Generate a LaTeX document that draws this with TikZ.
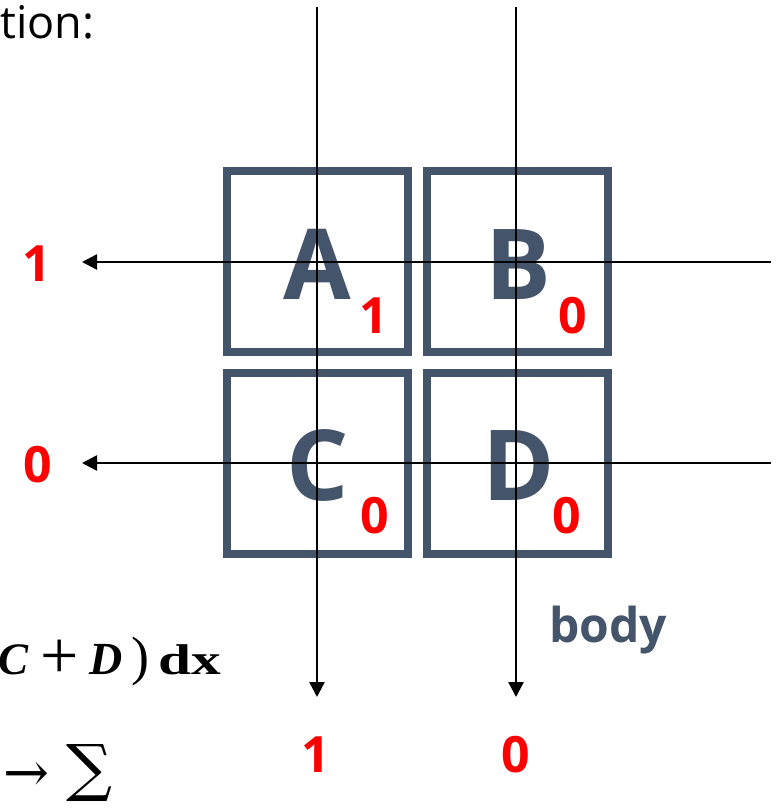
\documentclass[tikz,border=0pt]{standalone}
\usepackage{fontspec}
\setmainfont{Open Sans}
\newfontfamily\fserif{Liberation Serif}
\newfontfamily\fdeja{DejaVu Serif}
\usetikzlibrary{arrows.meta}
\definecolor{slate}{HTML}{44546A}
\definecolor{pured}{HTML}{FF0000}
\tikzset{
  cell/.style={draw=slate, line width=8pt, fill=white, minimum width=181pt, minimum height=181pt, inner sep=0pt},
  bigletter/.style={anchor=base, inner sep=0pt, text=slate, font=\fontsize{98}{110}\selectfont\bfseries},
  subval/.style={anchor=base, inner sep=0pt, text=pured, font=\fontsize{50}{60}\selectfont\bfseries},
  outval/.style={anchor=base, inner sep=0pt, text=pured, font=\fontsize{50}{60}\selectfont\bfseries},
  ray/.style={draw=black, line width=2.4pt, -{Triangle[length=15pt,width=15pt]}}
}
\begin{document}
\begin{tikzpicture}[x=1pt,y=-1pt]
\useasboundingbox (0,0) rectangle (780,808);
% boxes
\node[cell] (boxA) at (317.5,261.5) {};
\node[cell] (boxB) at (517,261.5) {};
\node[cell] (boxC) at (317.5,463.5) {};
\node[cell] (boxD) at (517,463.5) {};
% letters
\node[bigletter] (letA) at (317.5,299) {A};
\node[bigletter] (letB) at (518,299) {B};
\node[bigletter] (letC) at (318,500) {C};
\node[bigletter] (letD) at (519,500) {D};
% subscripts
\node[subval] (subA) at (374,333) {1};
\node[subval] (subB) at (573,333) {0};
\node[subval] (subC) at (375,533) {0};
\node[subval] (subD) at (567,533) {0};
% outputs
\node[outval] (outL1) at (37,281) {1};
\node[outval] (outL2) at (38,482) {0};
\node[outval] (outB1) at (316,772) {1};
\node[outval] (outB2) at (516,772) {0};
% ray endpoints
\coordinate (v1s) at (317,7);
\coordinate (v1e) at (317,697);
\coordinate (v2s) at (516,7);
\coordinate (v2e) at (516,697);
\coordinate (h1s) at (771,262);
\coordinate (h1e) at (82,262);
\coordinate (h2s) at (771,463);
\coordinate (h2e) at (82,463);
\draw[ray] (v1s) -- (v1e);
\draw[ray] (v2s) -- (v2e);
\draw[ray] (h1s) -- (h1e);
\draw[ray] (h2s) -- (h2e);
% texts
\node[anchor=base west, inner sep=0pt, font=\fontsize{45}{54}\selectfont] (title) at (0,39) {tion:};
\node[anchor=base west, inner sep=0pt, text=slate, font=\fontsize{48}{58}\selectfont\bfseries] (body) at (549,642) {body};
\node[anchor=base west, inner sep=0pt, font=\fontsize{42}{50}\selectfont\fserif] (formula) at (0,674)
  {\rlap{\hspace{-2pt}\fontsize{45}{54}\selectfont\bfseries\itshape C}%
   \rlap{\hspace{40pt}\raisebox{-4pt}{\fontsize{68}{72}\selectfont +}}%
   \rlap{\hspace{89pt}\fontsize{46}{56}\selectfont\bfseries\itshape D}%
   \rlap{\hspace{131pt}\fontsize{54}{60}\selectfont )}%
   \rlap{\hspace{158pt}\fontsize{43}{50}\selectfont\bfseries\scalebox{1.38}[1]{dx}}%
   \hspace{223pt}};
\node[anchor=base west, inner sep=0pt, font=\fontsize{55}{60}\selectfont\fdeja] (arrowsym) at (3,791) {→};
\node[anchor=south west, inner sep=0pt, font=\fdeja] (sumsym) at (66,802) {\resizebox*{46pt}{57pt}{∑}};
\end{tikzpicture}
\end{document}
